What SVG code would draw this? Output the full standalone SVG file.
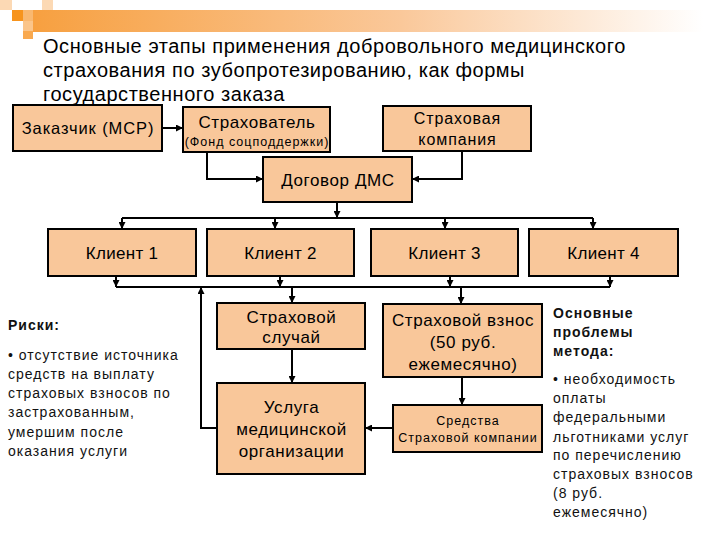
<svg xmlns="http://www.w3.org/2000/svg" width="720" height="540" viewBox="0 0 720 540">
<defs>
<linearGradient id="bar" x1="0" y1="0" x2="1" y2="0">
<stop offset="0" stop-color="#F7A040"/>
<stop offset="0.55" stop-color="#FAC89A"/>
<stop offset="1" stop-color="#FFFFFF"/>
</linearGradient>
<marker id="arr" viewBox="0 0 10 10" refX="10" refY="5" markerWidth="7" markerHeight="7" orient="auto" markerUnits="userSpaceOnUse">
<path d="M0,0 L10,5 L0,10 Z" fill="#000"/>
</marker>
<style>
.box{fill:#F9C79A;stroke:#000;stroke-width:2}
.t{font-family:"Liberation Sans",Arial,sans-serif;fill:#000;text-anchor:middle;letter-spacing:0.6px}
.b16{font-size:17px}
.b12{font-size:12.5px;letter-spacing:1px}
.side{font-family:"Liberation Sans",Arial,sans-serif;font-size:14px;fill:#111;letter-spacing:1px}
.bold{font-weight:bold}
.title{font-family:"Liberation Sans",Arial,sans-serif;font-size:20px;fill:#000;letter-spacing:0.55px}
.c{fill:none;stroke:#000;stroke-width:2}
.ca{fill:none;stroke:#000;stroke-width:2;marker-end:url(#arr)}
</style>
</defs>
<rect width="720" height="540" fill="#fff"/>
<g id="decoration">
<rect x="33" y="10" width="670" height="22" fill="url(#bar)"/>
<rect x="0" y="0" width="12" height="10" fill="#FCD9B4"/>
<rect x="42" y="0" width="11" height="10" fill="#FCD9B4"/>
<rect x="12" y="10" width="11" height="11" fill="#F7941D"/>
<rect x="23" y="10" width="10" height="11" fill="#F9B870"/>
<rect x="23" y="21" width="10" height="10" fill="#FBC58A"/>
<rect x="23" y="31" width="10" height="8" fill="#F9A94F"/>
</g>
<g id="title">
<text class="title" x="43" y="53">Основные этапы применения добровольного медицинского</text>
<text class="title" x="43" y="77">страхования по зубопротезированию, как формы</text>
<text class="title" x="43" y="101">государственного заказа</text>
</g>
<g id="connectors">
<path class="ca" d="M162,128 H183"/>
<path class="ca" d="M207,152 V179 H263"/>
<path class="ca" d="M462,151 V179 H412"/>
<path class="ca" d="M337,202 V218"/>
<path class="c" d="M122,218 H593"/>
<path class="ca" d="M122,218 V229"/>
<path class="ca" d="M275,218 V229"/>
<path class="ca" d="M445,218 V229"/>
<path class="ca" d="M593,218 V229"/>
<path class="ca" d="M116,276 V287"/>
<path class="ca" d="M280,276 V287"/>
<path class="ca" d="M450,276 V287"/>
<path class="ca" d="M610,276 V287"/>
<path class="c" d="M116,287 H610"/>
<path class="ca" d="M292,287 V303"/>
<path class="ca" d="M461,287 V304"/>
<path class="ca" d="M292,349 V383"/>
<path class="ca" d="M462,377 V405"/>
<path class="ca" d="M393,428 H365"/>
<path class="ca" d="M217,428 H201 V287"/>
</g>
<g id="zakazchik">
<rect class="box" x="13" y="105" width="149" height="46"/>
<text class="t" style="font-size:16.5px;letter-spacing:0.9px" x="88" y="134">Заказчик (МСР)</text>
</g>
<g id="strahovatel">
<rect class="box" x="183" y="107" width="147" height="45"/>
<text class="t b16" x="257" y="128">Страхователь</text>
<text class="t b12" x="257" y="146">(Фонд соцподдержки)</text>
</g>
<g id="kompaniya">
<rect class="box" x="383" y="106" width="148" height="45"/>
<text class="t" style="font-size:16px;letter-spacing:0.9px" x="457.5" y="124">Страховая</text>
<text class="t" style="font-size:16px;letter-spacing:0.9px" x="457.5" y="145">компания</text>
</g>
<g id="dogovor">
<rect class="box" x="263" y="157" width="149" height="45"/>
<text class="t b16" x="338" y="186">Договор ДМС</text>
</g>
<g id="client1">
<rect class="box" x="48" y="229" width="148" height="47"/>
<text class="t b16" style="letter-spacing:0.3px" x="122" y="259">Клиент 1</text>
</g>
<g id="client2">
<rect class="box" x="207" y="229" width="147" height="47"/>
<text class="t b16" style="letter-spacing:0.3px" x="280.5" y="259">Клиент 2</text>
</g>
<g id="client3">
<rect class="box" x="371" y="229" width="147" height="47"/>
<text class="t b16" style="letter-spacing:0.3px" x="444.5" y="259">Клиент 3</text>
</g>
<g id="client4">
<rect class="box" x="529" y="229" width="149" height="47"/>
<text class="t b16" style="letter-spacing:0.3px" x="603.5" y="259">Клиент 4</text>
</g>
<g id="sluchai">
<rect class="box" x="217" y="303" width="148" height="46"/>
<text class="t b16" x="291.5" y="323">Страховой</text>
<text class="t b16" x="291.5" y="343">случай</text>
</g>
<g id="usluga">
<rect class="box" x="217" y="383" width="148" height="91"/>
<text class="t b16" x="291.5" y="413">Услуга</text>
<text class="t b16" x="291.5" y="435">медицинской</text>
<text class="t b16" x="291.5" y="457">организации</text>
</g>
<g id="vznos">
<rect class="box" x="383" y="304" width="159" height="73"/>
<text class="t b16" x="463" y="326">Страховой взнос</text>
<text class="t b16" x="463" y="348">(50 руб.</text>
<text class="t b16" x="463" y="370">ежемесячно)</text>
</g>
<g id="sredstva">
<rect class="box" x="393" y="405" width="149" height="47"/>
<text class="t b12" x="468" y="425">Средства</text>
<text class="t b12" x="468" y="442">Страховой компании</text>
</g>
<g id="risks">
<text class="side bold" x="8" y="330">Риски:</text>
<text class="side" x="8" y="360">• отсутствие источника</text>
<text class="side" x="8" y="379">средств на выплату</text>
<text class="side" x="8" y="398">страховых взносов по</text>
<text class="side" x="8" y="417">застрахованным,</text>
<text class="side" x="8" y="437">умершим после</text>
<text class="side" x="8" y="456">оказания услуги</text>
</g>
<g id="problems">
<text class="side bold" x="553" y="318">Основные</text>
<text class="side bold" x="553" y="337">проблемы</text>
<text class="side bold" x="553" y="356">метода:</text>
<text class="side" x="553" y="384">• необходимость</text>
<text class="side" x="553" y="403">оплаты</text>
<text class="side" x="553" y="422">федеральными</text>
<text class="side" x="553" y="442">льготниками услуг</text>
<text class="side" x="553" y="460">по перечислению</text>
<text class="side" x="553" y="479">страховых взносов</text>
<text class="side" x="553" y="498">(8 руб.</text>
<text class="side" x="553" y="517">ежемесячно)</text>
</g>
</svg>
